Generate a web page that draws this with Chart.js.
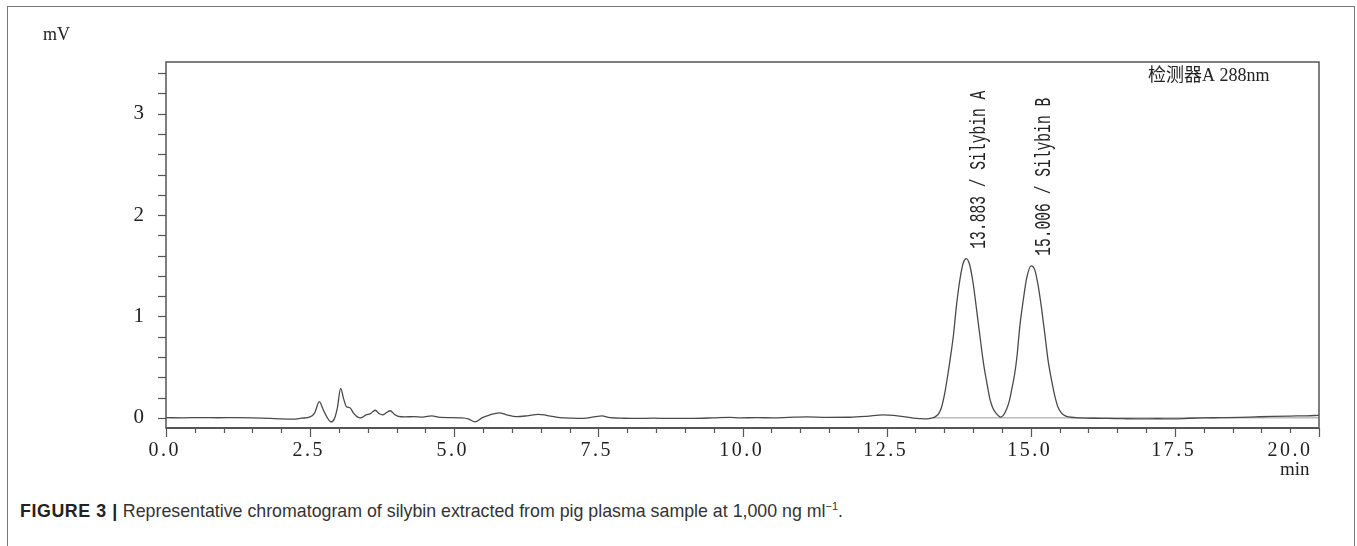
<!DOCTYPE html>
<html>
<head>
<meta charset="utf-8">
<script src="https://cdn.jsdelivr.net/npm/chart.js@4.4.1/dist/chart.umd.min.js"></script>
<style>
  html, body { margin: 0; padding: 0; background: #fff; }
  body { width: 1357px; height: 546px; position: relative; overflow: hidden; }
  #frame { position: absolute; left: 7px; top: 6px; width: 1348px; height: 600px; border: 1.5px solid #777; box-sizing: border-box; }
  #wrap { position: absolute; left: 0; top: 0; width: 1357px; height: 490px; }
  #caption { position: absolute; left: 20px; top: 500px; font-family: "Liberation Sans", Arial, sans-serif; font-size: 17.8px; color: #333; white-space: nowrap; }
  #caption b { color: #222; letter-spacing: 0.6px; }
  #caption sup { font-size: 11px; }
</style>
</head>
<body>
<div id="frame"></div>
<div id="wrap"><canvas id="chrom-chart" width="1357" height="490"></canvas></div>
<div id="caption"><b>FIGURE 3 |</b> Representative chromatogram of silybin extracted from pig plasma sample at 1,000 ng ml<sup>−1</sup>.</div>
<script>
// Retention time (min) and detector signal (mV)
const times = [
    0.00, 0.30, 0.60, 0.90, 1.20, 1.50, 1.80, 2.00, 2.20, 2.35,
    2.50, 2.58, 2.66, 2.72, 2.78, 2.86, 2.92, 2.97, 3.03, 3.08,
    3.13, 3.19, 3.25, 3.32, 3.38, 3.47, 3.54, 3.63, 3.70, 3.76,
    3.82, 3.89, 3.96, 4.03, 4.15, 4.30, 4.45, 4.61, 4.75, 4.95,
    5.10, 5.24, 5.36, 5.48, 5.62, 5.78, 5.91, 6.08, 6.26, 6.46,
    6.60, 6.83, 7.05, 7.24, 7.45, 7.56, 7.70, 7.95, 8.16, 8.45,
    8.74, 9.15, 9.49, 9.78, 9.96, 10.25, 10.53, 10.80, 11.11, 11.46,
    11.86, 12.15, 12.44, 12.62, 12.91, 13.10, 13.19, 13.28, 13.34, 13.40,
    13.45, 13.51, 13.56, 13.60, 13.66, 13.71, 13.77, 13.83, 13.883, 13.94,
    14.00, 14.06, 14.12, 14.18, 14.24, 14.29, 14.34, 14.40, 14.48, 14.53,
    14.58, 14.63, 14.67, 14.72, 14.76, 14.81, 14.87, 14.93, 15.006, 15.07,
    15.13, 15.19, 15.25, 15.30, 15.36, 15.42, 15.47, 15.53, 15.60, 15.70,
    15.85, 16.10, 16.32, 16.60, 16.89, 17.20, 17.47, 17.75, 17.99, 18.30,
    18.63, 18.90, 19.20, 19.50, 19.79, 20.00
];
const signal = [
    0.002, 0.000, 0.003, 0.001, 0.002, 0.000, -0.005, -0.010, -0.012, -0.003,
    0.010, 0.050, 0.160, 0.090, 0.020, -0.040, -0.010, 0.090, 0.290, 0.190,
    0.110, 0.100, 0.050, 0.010, 0.000, 0.030, 0.040, 0.075, 0.040, 0.030,
    0.050, 0.070, 0.035, 0.015, 0.010, 0.012, 0.008, 0.020, 0.005, 0.003,
    0.000, -0.010, -0.040, 0.000, 0.030, 0.050, 0.030, 0.012, 0.020, 0.035,
    0.025, 0.003, -0.003, -0.005, 0.012, 0.020, 0.002, -0.004, -0.006, -0.003,
    -0.006, -0.005, 0.000, 0.005, 0.000, 0.002, 0.000, 0.005, 0.010, 0.005,
    0.006, 0.015, 0.030, 0.025, 0.003, -0.008, -0.010, -0.003, 0.010, 0.040,
    0.100, 0.250, 0.420, 0.570, 0.820, 1.100, 1.360, 1.530, 1.570, 1.510,
    1.330, 1.070, 0.800, 0.540, 0.340, 0.190, 0.100, 0.045, 0.008, 0.030,
    0.085, 0.170, 0.280, 0.430, 0.600, 0.900, 1.160, 1.380, 1.500, 1.460,
    1.300, 1.070, 0.800, 0.570, 0.375, 0.210, 0.110, 0.050, 0.020, 0.006,
    0.000, -0.004, -0.005, -0.008, -0.010, -0.009, -0.010, -0.004, 0.000, 0.002,
    0.005, 0.010, 0.015, 0.018, 0.020, 0.025
];

// Integration baseline drawn under the two peaks
const baselineTimes = [13.31, 20.0];
const baselineValues = [0, 0];

// Peak annotations
const peakTimes = [13.883, 15.006];
const peakHeights = [1.57, 1.50];
const peakNames = ['Silybin A', 'Silybin B'];

// Axis ticks: every 0.5 min on x (labelled every 2.5), every 0.2 mV on y (labelled at integers)
const xTicks = [
    0, 0.5, 1, 1.5, 2, 2.5, 3, 3.5, 4, 4.5, 5, 5.5, 6, 6.5, 7, 7.5, 8, 8.5, 9, 9.5,
    10, 10.5, 11, 11.5, 12, 12.5, 13, 13.5, 14, 14.5, 15, 15.5, 16, 16.5, 17, 17.5,
    18, 18.5, 19, 19.5, 20
];
const xLabels = ['0.0', '2.5', '5.0', '7.5', '10.0', '12.5', '15.0', '17.5', '20.0'];
const yTicks = [0, 0.2, 0.4, 0.6, 0.8, 1, 1.2, 1.4, 1.6, 1.8, 2, 2.2, 2.4, 2.6, 2.8, 3, 3.2, 3.4];
const yLabels = ['0', '1', '2', '3'];

const serif = '"Liberation Serif", "DejaVu Serif", serif';

const chromPlugin = {
    id: 'chromDecor',
    afterDraw(chart) {
        const ctx = chart.ctx;
        const area = chart.chartArea;
        const xs = chart.scales.x;
        const ys = chart.scales.y;
        ctx.save();

        // plot frame
        ctx.strokeStyle = '#555';
        ctx.lineWidth = 1.5;
        ctx.strokeRect(area.left, area.top, area.right - area.left, area.bottom - area.top);
        ctx.lineWidth = 2.2;
        ctx.beginPath();
        ctx.moveTo(area.left, area.bottom);
        ctx.lineTo(area.right, area.bottom);
        ctx.stroke();

        // y tick marks
        ctx.lineWidth = 1.2;
        ys.ticks.forEach(tk => {
            const py = Math.round(ys.getPixelForValue(tk.value)) + 0.5;
            ctx.beginPath();
            ctx.moveTo(area.left - 8, py);
            ctx.lineTo(area.left, py);
            ctx.stroke();
        });

        // x tick marks, longer where labelled, plus labels
        ctx.fillStyle = '#222';
        ctx.font = '20px ' + serif;
        ctx.textBaseline = 'alphabetic';
        ctx.textAlign = 'left';
        ctx.letterSpacing = '2.5px';
        xs.ticks.forEach(tk => {
            const px = Math.round(xs.getPixelForValue(tk.value)) + 0.5;
            const lab = xLabels.find(l => Math.abs(parseFloat(l) - tk.value) < 1e-6);
            ctx.beginPath();
            ctx.moveTo(px, area.bottom);
            ctx.lineTo(px, area.bottom + (lab ? 9 : 5));
            ctx.stroke();
            if (lab) {
                const w = ctx.measureText(lab).width - 2.5;
                let cx = px - 3;
                if (cx + w / 2 > area.right - 9) cx = area.right - 9 - w / 2;
                ctx.fillText(lab, cx - w / 2, area.bottom + 28);
            }
        });
        ctx.letterSpacing = '0px';

        ctx.font = '19px ' + serif;
        ctx.fillText('min', area.right - 39, area.bottom + 47);
        ctx.font = '18px ' + serif;
        ctx.fillText('mV', 43, 40);
        ctx.font = '18px ' + serif + ', "Noto Sans CJK SC"';
        ctx.fillText('检测器A 288nm', area.right - 171, area.top + 19);

        // rotated peak labels
        ctx.font = '22px "Liberation Mono", "DejaVu Sans Mono", monospace';
        peakTimes.forEach((t, i) => {
            const label = t.toFixed(3) + ' / ' + peakNames[i];
            const px = xs.getPixelForValue(t) + 19;
            const py = ys.getPixelForValue(peakHeights[i]) - 10;
            const w = ctx.measureText(label).width;
            ctx.save();
            ctx.translate(px, py);
            ctx.rotate(-Math.PI / 2);
            ctx.scale(158 / w, 1);
            ctx.fillText(label, 0, 0);
            ctx.restore();
        });

        ctx.restore();
    }
};

const canvas = document.getElementById('chrom-chart');
const chromChart = new Chart(canvas.getContext('2d'), {
    type: 'line',
    data: {
        datasets: [{
            data: times.map((t, i) => ({ x: t, y: signal[i] })),
            borderColor: '#4a4a4a',
            borderWidth: 1.3,
            pointRadius: 0,
            cubicInterpolationMode: 'monotone',
            fill: false
        }, {
            data: baselineTimes.map((t, i) => ({ x: t, y: baselineValues[i] })),
            borderColor: '#9a9a9a',
            borderWidth: 1,
            pointRadius: 0,
            fill: false
        }]
    },
    options: {
        responsive: false,
        animation: false,
        layout: { padding: { top: 62, right: 38, left: 0, bottom: 0 } },
        plugins: { legend: { display: false }, tooltip: { enabled: false } },
        scales: {
            x: {
                type: 'linear',
                min: 0,
                max: 20,
                grid: { display: false },
                border: { display: false },
                ticks: { display: false, autoSkip: false },
                afterBuildTicks: s => { s.ticks = xTicks.map(v => ({ value: v })); },
                afterFit: s => { s.height = 62; }
            },
            y: {
                min: -0.1,
                max: 3.51,
                grid: { display: false },
                border: { display: false },
                ticks: {
                    autoSkip: false,
                    padding: 14,
                    color: '#222',
                    font: { family: serif, size: 21 },
                    callback: v => {
                        const lab = yLabels.find(l => Math.abs(parseFloat(l) - v) < 1e-6);
                        return lab || '';
                    }
                },
                afterBuildTicks: s => { s.ticks = yTicks.map(v => ({ value: v })); },
                afterFit: s => { s.width = 166; }
            }
        }
    },
    plugins: [chromPlugin]
});
</script>
</body>
</html>
